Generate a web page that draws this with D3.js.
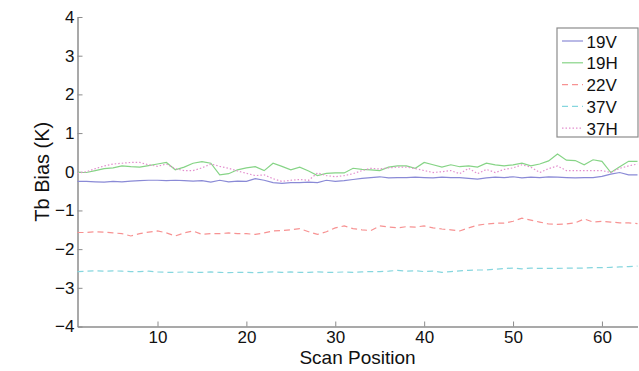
<!DOCTYPE html>
<html>
<head>
<meta charset="utf-8">
<script src="https://cdn.jsdelivr.net/npm/d3@7"></script>
<style>
  body { margin: 0; background: #fff; }
  text { font-family: "Liberation Sans", Arial, sans-serif; fill: #111; }
</style>
</head>
<body>
<div id="chart"></div>
<script>
// scan positions 1..64
const scanPos = d3.range(1, 65);

const v19 = [-0.25,-0.25,-0.26,-0.27,-0.25,-0.26,-0.24,-0.23,-0.22,-0.22,
  -0.23,-0.22,-0.23,-0.24,-0.23,-0.27,-0.22,-0.26,-0.24,-0.25,
  -0.18,-0.22,-0.28,-0.30,-0.28,-0.28,-0.27,-0.28,-0.22,-0.25,
  -0.23,-0.20,-0.17,-0.15,-0.13,-0.16,-0.15,-0.15,-0.14,-0.15,
  -0.16,-0.14,-0.15,-0.15,-0.17,-0.19,-0.16,-0.14,-0.15,-0.13,
  -0.16,-0.14,-0.15,-0.13,-0.14,-0.15,-0.16,-0.15,-0.15,-0.12,
  -0.06,-0.02,-0.08,-0.08];

const h19 = [-0.02,-0.02,0.03,0.08,0.10,0.15,0.13,0.12,0.16,0.20,
  0.24,0.05,0.12,0.22,0.26,0.22,-0.08,-0.05,0.05,0.10,
  0.13,0.03,0.22,0.14,0.05,0.12,0.02,-0.10,-0.04,-0.03,
  -0.03,0.09,0.06,0.05,0.03,0.12,0.15,0.15,0.09,0.24,
  0.18,0.12,0.18,0.13,0.15,0.12,0.22,0.18,0.15,0.18,
  0.22,0.15,0.20,0.28,0.46,0.30,0.29,0.18,0.31,0.27,
  -0.02,0.13,0.27,0.27];

const v22 = [-1.57,-1.57,-1.55,-1.56,-1.58,-1.60,-1.66,-1.60,-1.56,-1.53,
  -1.58,-1.66,-1.58,-1.53,-1.62,-1.60,-1.60,-1.58,-1.60,-1.60,
  -1.62,-1.58,-1.53,-1.52,-1.50,-1.47,-1.55,-1.62,-1.55,-1.45,
  -1.40,-1.47,-1.50,-1.52,-1.40,-1.43,-1.45,-1.42,-1.43,-1.40,
  -1.45,-1.48,-1.50,-1.53,-1.45,-1.38,-1.35,-1.33,-1.33,-1.28,
  -1.20,-1.25,-1.30,-1.35,-1.36,-1.35,-1.32,-1.22,-1.30,-1.28,
  -1.30,-1.32,-1.32,-1.34];

const v37 = [-2.58,-2.57,-2.56,-2.57,-2.56,-2.57,-2.58,-2.58,-2.57,-2.59,
  -2.60,-2.60,-2.59,-2.60,-2.60,-2.59,-2.60,-2.61,-2.60,-2.60,
  -2.61,-2.60,-2.59,-2.60,-2.59,-2.60,-2.60,-2.59,-2.60,-2.60,
  -2.59,-2.60,-2.59,-2.58,-2.58,-2.57,-2.55,-2.57,-2.56,-2.58,
  -2.57,-2.60,-2.58,-2.56,-2.55,-2.54,-2.54,-2.52,-2.50,-2.49,
  -2.51,-2.49,-2.50,-2.50,-2.50,-2.49,-2.49,-2.49,-2.48,-2.48,
  -2.47,-2.46,-2.45,-2.44];

const h37 = [-0.04,0.00,0.08,0.15,0.20,0.22,0.24,0.24,0.18,0.14,
  0.20,0.08,0.03,0.03,0.10,0.20,0.14,0.09,0.02,-0.04,
  -0.10,-0.08,-0.18,-0.25,-0.22,-0.20,-0.22,-0.03,-0.10,-0.13,
  -0.10,-0.05,0.03,0.09,0.07,0.10,0.12,0.12,0.08,0.03,
  -0.02,0.00,0.03,-0.05,0.09,-0.05,0.06,-0.02,0.06,0.10,
  0.18,0.12,-0.02,0.08,0.15,0.03,0.03,0.03,0.03,0.03,
  -0.02,0.09,0.15,0.20];

const xTicks = [10, 20, 30, 40, 50, 60];
const yTicks = [-4, -3, -2, -1, 0, 1, 2, 3, 4];

const series = [
  { name: "19V", values: v19, color: "#8a8ad6", dash: null },
  { name: "19H", values: h19, color: "#86d486", dash: null },
  { name: "22V", values: v22, color: "#f79292", dash: "6,4" },
  { name: "37V", values: v37, color: "#86d6de", dash: "6,4" },
  { name: "37H", values: h37, color: "#e38fce", dash: "1.5,2" }
];

const W = 639, H = 371;
const margin = { top: 17, right: 1.5, bottom: 44.5, left: 77.5 };

const svg = d3.select("#chart").append("svg")
  .attr("width", W).attr("height", H);

const x = d3.scaleLinear().domain([1, 64]).range([margin.left, W - margin.right]);
const y = d3.scaleLinear().domain([-4, 4]).range([H - margin.bottom, margin.top]);

const axisColor = "#8c8c8c";

// x axis (ticks point inward)
const gx = svg.append("g")
  .attr("transform", "translate(0," + (H - margin.bottom) + ")")
  .call(d3.axisBottom(x).tickValues(xTicks).tickSize(-5).tickPadding(4).tickSizeOuter(0));
gx.select(".domain").attr("stroke", axisColor).attr("stroke-width", 1.5);
gx.selectAll(".tick line").attr("stroke", axisColor);
gx.selectAll(".tick text").attr("font-size", 17).attr("fill", "#111")
  .attr("font-family", "Liberation Sans, Arial, sans-serif");

// y axis
const gy = svg.append("g")
  .attr("transform", "translate(" + margin.left + ",0)")
  .call(d3.axisLeft(y).tickValues(yTicks).tickSize(-5).tickPadding(3).tickSizeOuter(0));
gy.select(".domain").attr("stroke", axisColor).attr("stroke-width", 1.5);
gy.selectAll(".tick line").attr("stroke", axisColor);
gy.selectAll(".tick text").attr("font-size", 17).attr("fill", "#111")
  .attr("font-family", "Liberation Sans, Arial, sans-serif");

// lines
const line = d3.line()
  .x((d, i) => x(scanPos[i]))
  .y(d => y(d));

svg.selectAll(".series")
  .data(series)
  .enter()
  .append("path")
  .attr("class", "series")
  .attr("d", d => line(d.values))
  .attr("fill", "none")
  .attr("stroke", d => d.color)
  .attr("stroke-width", 1.2)
  .attr("stroke-dasharray", d => d.dash);

// axis labels
svg.append("text")
  .attr("x", (margin.left + W - margin.right) / 2)
  .attr("y", 364)
  .attr("text-anchor", "middle")
  .attr("font-size", 19)
  .text("Scan Position");

svg.append("text")
  .attr("transform", "translate(49," + y(0) + ")rotate(-90)")
  .attr("text-anchor", "middle")
  .attr("font-size", 20)
  .text("Tb Bias (K)");

// legend
const legend = svg.append("g").attr("transform", "translate(557,28)");
legend.append("rect")
  .attr("width", 81).attr("height", 109)
  .attr("fill", "#fff")
  .attr("stroke", axisColor)
  .attr("stroke-width", 1.2);

const items = legend.selectAll(".item")
  .data(series)
  .enter()
  .append("g")
  .attr("class", "item")
  .attr("transform", (d, i) => "translate(0," + (13 + i * 21.8) + ")");

items.append("line")
  .attr("x1", 5).attr("x2", 26)
  .attr("stroke", d => d.color)
  .attr("stroke-width", 1.2)
  .attr("stroke-dasharray", d => d.dash);

items.append("text")
  .attr("x", 29.5)
  .attr("y", 6.5)
  .attr("font-size", 17)
  .text(d => d.name);
</script>
</body>
</html>
